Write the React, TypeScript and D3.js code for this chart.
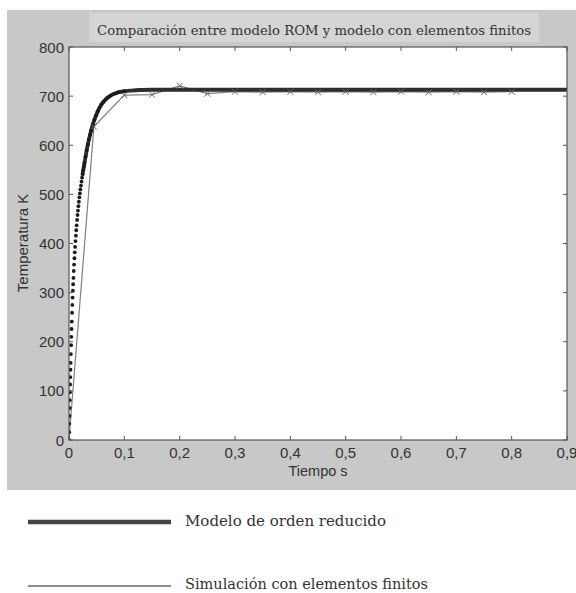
import React from "react";
import * as d3 from "d3";

const xTicks = [0, 0.1, 0.2, 0.3, 0.4, 0.5, 0.6, 0.7, 0.8, 0.9];
const xTickLabels = ["0", "0,1", "0,2", "0,3", "0,4", "0,5", "0,6", "0,7", "0,8", "0,9"];
const yTicks = [0, 100, 200, 300, 400, 500, 600, 700, 800];
const yTickLabels = ["0", "100", "200", "300", "400", "500", "600", "700", "800"];

// Modelo de orden reducido (ROM)
const romTime = [0, 0.0003, 0.0006, 0.0009, 0.0012, 0.0015, 0.0018, 0.0021, 0.0024, 0.0027, 0.003, 0.0034, 0.0038, 0.0042, 0.0046, 0.005, 0.0055, 0.006, 0.0065, 0.007, 0.0075, 0.008, 0.0086, 0.0092, 0.0098, 0.0104, 0.011, 0.0117, 0.0124, 0.0131, 0.0138, 0.0146, 0.0154, 0.0162, 0.017, 0.0179, 0.0188, 0.0197, 0.0206, 0.0216, 0.0226, 0.0236, 0.0246, 0.0257, 0.0268, 0.028, 0.030, 0.032, 0.034, 0.036, 0.038, 0.040, 0.043, 0.046, 0.049, 0.052, 0.055, 0.058, 0.062, 0.066, 0.070, 0.075, 0.080, 0.085, 0.090, 0.095, 0.100, 0.110, 0.120, 0.130, 0.150, 0.200, 0.300, 0.400, 0.500, 0.600, 0.700, 0.800, 0.900];
const romTemp = [0, 16, 33, 49, 65, 81, 97, 113, 128, 143, 157, 175, 193, 210, 226, 241, 259, 275, 290, 304, 317, 330, 344, 357, 370, 382, 393, 405, 416, 427, 437, 448, 458, 467, 476, 485, 494, 502, 510, 518, 526, 534, 541, 549, 556, 564, 577, 590, 601, 612, 621, 630, 642, 652, 661, 669, 676, 682, 688, 693, 697, 701, 704, 706, 708, 709, 710, 711, 712, 712.5, 713, 713, 713, 713, 713, 713, 713, 713, 713];

// Simulación con elementos finitos (FEM)
const femTime = [0, 0.045, 0.1, 0.15, 0.2, 0.25, 0.3, 0.35, 0.4, 0.45, 0.5, 0.55, 0.6, 0.65, 0.7, 0.75, 0.8];
const femTemp = [0, 638, 702, 703, 721, 705, 709, 708, 709, 708, 709, 708, 709, 708, 709, 708, 709];

const legendLabels = ["Modelo de orden reducido", "Simulación con elementos finitos"];
const title = "Comparación entre modelo ROM y modelo con elementos finitos";

export default function App() {
  const W = 576, H = 593;
  const left = 69, right = 567, top = 47, bottom = 440;
  const x = d3.scaleLinear().domain([0, 0.9]).range([left, right]);
  const y = d3.scaleLinear().domain([0, 800]).range([bottom, top]);

  const rom = romTime.map((t, i) => [t, romTemp[i]] as [number, number]);
  const fem = femTime.map((t, i) => [t, femTemp[i]] as [number, number]);
  const line = d3.line<[number, number]>().x(d => x(d[0])).y(d => y(d[1])).curve(d3.curveMonotoneX);
  const lineLin = d3.line<[number, number]>().x(d => x(d[0])).y(d => y(d[1]));

  const sans = "'Liberation Sans', Arial, sans-serif";
  const serif = "'DejaVu Serif', serif";
  const axisCol = "#555";
  const textCol = "#333";
  const tl = 4;

  return (
    <svg width={W} height={H} style={{ position: "absolute", left: 0, top: 0, display: "block" }}>
      <rect x={0} y={0} width={W} height={H} fill="#fff" />
      <rect x={7} y={10} width={W - 7} height={480} fill="#c8c8c8" />
      <rect x={89} y={13} width={450} height={29} fill="#d5d5d5" />
      <text x={314} y={35} textAnchor="middle" fontFamily={serif} fontSize={12.5} fill={textCol}
        textLength={434} lengthAdjust="spacingAndGlyphs">{title}</text>

      <rect x={left} y={top} width={right - left} height={bottom - top} fill="#fff" />

      <clipPath id="plotclip">
        <rect x={left} y={top - 5} width={right - left} height={bottom - top + 5} />
      </clipPath>

      <g clipPath="url(#plotclip)">
        <path d={lineLin(fem) || ""} fill="none" stroke="#808080" strokeWidth={1.2} />
        <path d={line(rom.filter(d => d[0] >= 0.024)) || ""} fill="none" stroke="#2e2e2e" strokeWidth={3.8} strokeLinejoin="round" />
        {rom.filter(d => d[0] <= 0.1).map((d, i) => (
          <circle key={"d" + i} cx={x(d[0])} cy={y(d[1])} r={1.9} fill="#1a1a1a" />
        ))}
        {fem.slice(1).map((d, i) => {
          const cx = x(d[0]), cy = y(d[1]), s = 3;
          return (
            <path key={"m" + i} d={`M${cx - s},${cy - s}L${cx + s},${cy + s}M${cx - s},${cy + s}L${cx + s},${cy - s}`}
              stroke="#666" strokeWidth={1} fill="none" />
          );
        })}
      </g>

      <rect x={left} y={top} width={right - left} height={bottom - top} fill="none" stroke={axisCol} strokeWidth={1.2} />

      {xTicks.map((t, i) => (
        <g key={"xt" + i}>
          <line x1={x(t)} x2={x(t)} y1={bottom} y2={bottom - tl} stroke={axisCol} strokeWidth={1} />
          <line x1={x(t)} x2={x(t)} y1={top} y2={top + tl} stroke={axisCol} strokeWidth={1} />
          <text x={x(t)} y={458} textAnchor="middle" fontFamily={sans} fontSize={15} fill={textCol}>{xTickLabels[i]}</text>
        </g>
      ))}
      {yTicks.map((t, i) => (
        <g key={"yt" + i}>
          <line x1={left} x2={left + tl} y1={y(t)} y2={y(t)} stroke={axisCol} strokeWidth={1} />
          <line x1={right} x2={right - tl} y1={y(t)} y2={y(t)} stroke={axisCol} strokeWidth={1} />
          <text x={64} y={y(t) + 5.5} textAnchor="end" fontFamily={sans} fontSize={15} fill={textCol}>{yTickLabels[i]}</text>
        </g>
      ))}

      <text x={318} y={476} textAnchor="middle" fontFamily={sans} fontSize={14.5} fill={textCol}>Tiempo s</text>
      <text transform="translate(28,243) rotate(-90)" textAnchor="middle" fontFamily={sans} fontSize={15} fill={textCol}>Temperatura K</text>

      <line x1={28} x2={171} y1={522} y2={522} stroke="#444" strokeWidth={4.5} />
      <text x={185} y={526} fontFamily={serif} fontSize={15} fill={textCol}>{legendLabels[0]}</text>
      <line x1={28} x2={171} y1={586} y2={586} stroke="#666" strokeWidth={1.5} />
      <text x={185} y={589} fontFamily={serif} fontSize={14.5} fill={textCol}>{legendLabels[1]}</text>
    </svg>
  );
}
